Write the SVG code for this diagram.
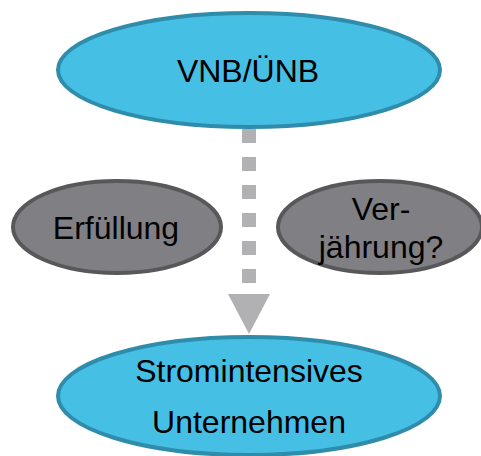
<svg xmlns="http://www.w3.org/2000/svg" width="481" height="456" viewBox="0 0 481 456">
<style>
.blue{fill:#45BFE4;stroke:#2F8CAA;stroke-width:4}
.gray{fill:#808084;stroke:#58585B;stroke-width:4}
text{font-family:"Liberation Sans",Arial,sans-serif;font-size:32px;fill:#000;text-anchor:middle}
</style>
<rect width="481" height="456" fill="#fff"/>
<g id="connectors">
<line x1="249" y1="129" x2="249" y2="283" stroke="#B1B1B4" stroke-width="14" stroke-dasharray="14 14"/>
<polygon points="228,294 270,294 249,334" fill="#B1B1B4"/>
</g>
<g id="vnb">
<ellipse class="blue" cx="249" cy="70" rx="191" ry="57"/>
<text x="248" y="82">VNB/ÜNB</text>
</g>
<g id="erfuellung">
<ellipse class="gray" cx="117" cy="227" rx="104" ry="46"/>
<text x="116" y="239">Erfüllung</text>
</g>
<g id="verjaehrung">
<ellipse class="gray" cx="380" cy="227" rx="102" ry="46"/>
<text x="381" y="220">Ver-</text>
<text x="381" y="258">jährung?</text>
</g>
<g id="unternehmen">
<ellipse class="blue" cx="249" cy="396" rx="191" ry="59"/>
<text x="249" y="382">Stromintensives</text>
<text x="249" y="433">Unternehmen</text>
</g>
</svg>
